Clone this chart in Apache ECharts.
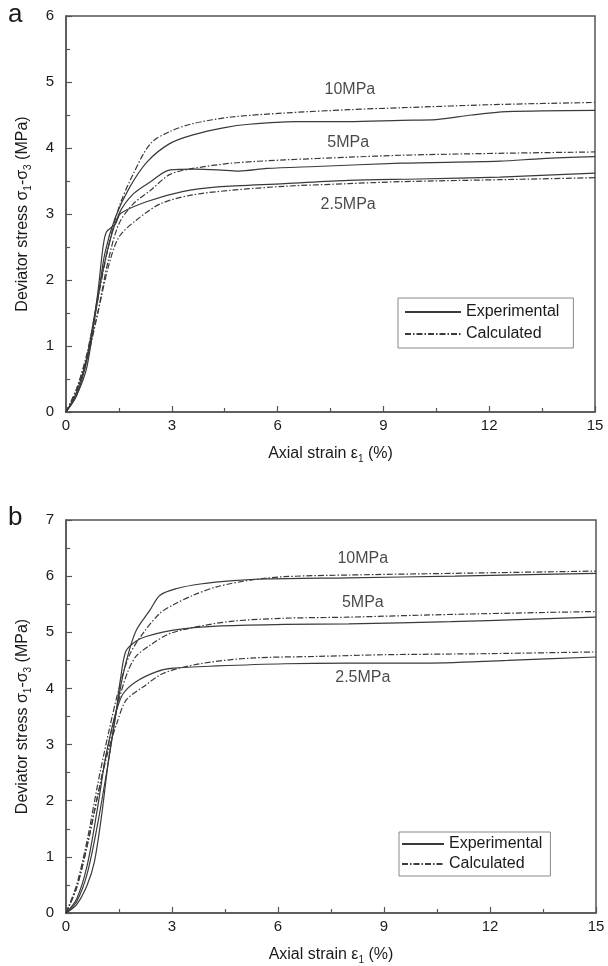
<!DOCTYPE html>
<html><head><meta charset="utf-8">
<script src="https://cdn.jsdelivr.net/npm/echarts@6/dist/echarts.min.js"></script>
<style>html,body{margin:0;padding:0;background:#fff}#c{width:608px;height:966px}</style>
</head><body><div id="c"></div>
<script>
// ---------- Panel a ----------
const aExp10 = [[0,0],[0.3,0.25],[0.6,0.8],[0.9,1.7],[1.1,2.4],[1.4,2.95],[1.8,3.4],[2.3,3.79],[2.95,4.07],[3.6,4.2],[4.5,4.31],[5.2,4.36],[6.5,4.4],[8,4.4],[9.5,4.42],[10.5,4.43],[11.5,4.5],[12.5,4.55],[15,4.57]];
const aCalc10 = [[0,0],[0.3,0.35],[0.6,0.9],[0.9,1.7],[1.2,2.5],[1.5,3.1],[1.9,3.6],[2.4,4.07],[2.95,4.25],[3.6,4.37],[4.7,4.47],[6.2,4.53],[8,4.58],[9.5,4.61],[12.3,4.66],[15,4.69]];
const aExp5 = [[0,0],[0.3,0.3],[0.6,0.85],[0.9,1.75],[1.2,2.5],[1.5,3.0],[1.9,3.3],[2.4,3.49],[2.95,3.67],[3.6,3.68],[4.3,3.67],[4.9,3.65],[5.7,3.69],[7.1,3.72],[9.5,3.77],[12.3,3.8],[13.5,3.84],[15,3.87]];
const aCalc5 = [[0,0],[0.3,0.3],[0.6,0.8],[0.9,1.5],[1.2,2.3],[1.5,2.85],[1.9,3.15],[2.4,3.36],[2.95,3.6],[3.6,3.69],[4.7,3.77],[6.2,3.82],[8,3.86],[9.5,3.89],[12.3,3.92],[15,3.94]];
const aExp25 = [[0,0],[0.3,0.25],[0.6,0.7],[0.9,1.8],[1.05,2.5],[1.15,2.73],[1.4,2.85],[1.55,3.01],[2.3,3.19],[3.3,3.34],[4.3,3.41],[6.2,3.46],[8,3.51],[10,3.53],[12.3,3.56],[15,3.62]];
const aCalc25 = [[0,0],[0.3,0.35],[0.6,0.85],[0.9,1.5],[1.2,2.2],[1.5,2.65],[2.0,2.91],[2.7,3.16],[3.6,3.29],[4.7,3.36],[6.2,3.42],[8,3.46],[9.5,3.49],[12.3,3.52],[15,3.55]];
const aLabels = [[8.05,4.88,'10MPa'],[8.0,4.08,'5MPa'],[8.0,3.15,'2.5MPa']];
// ---------- Panel b ----------
const bExp10 = [[0,0],[0.3,0.15],[0.6,0.5],[0.8,0.9],[1.0,1.7],[1.2,2.7],[1.4,3.5],[1.6,4.2],[1.8,4.7],[2.0,5.05],[2.38,5.4],[2.66,5.66],[3.14,5.78],[3.8,5.86],[4.74,5.92],[5.69,5.95],[8,5.97],[11,6.0],[15,6.05]];
const bCalc10 = [[0,0],[0.3,0.5],[0.6,1.3],[0.9,2.3],[1.2,3.2],[1.5,4.0],[1.8,4.6],[2.2,5.0],[2.66,5.34],[3.04,5.49],[3.6,5.66],[4.27,5.81],[5.22,5.93],[6.16,5.99],[8,6.02],[11,6.05],[15,6.09]];
const bExp5 = [[0,0],[0.3,0.2],[0.6,0.7],[0.9,1.6],[1.2,2.7],[1.4,3.5],[1.55,4.2],[1.7,4.67],[2.0,4.85],[2.29,4.93],[3.04,5.04],[4.27,5.11],[6.2,5.14],[8,5.15],[10.9,5.19],[13,5.23],[15,5.27]];
const bCalc5 = [[0,0],[0.3,0.45],[0.6,1.2],[0.9,2.1],[1.2,3.0],[1.5,3.8],[1.75,4.3],[1.98,4.57],[2.38,4.77],[2.95,4.98],[3.8,5.11],[4.74,5.2],[6.16,5.25],[8,5.27],[11,5.32],[15,5.37]];
const bExp25 = [[0,0],[0.3,0.25],[0.6,0.85],[0.9,1.9],[1.1,2.7],[1.3,3.3],[1.45,3.65],[1.62,3.91],[1.98,4.12],[2.57,4.3],[3.04,4.36],[4.27,4.4],[6.2,4.44],[8,4.45],[10,4.45],[12.5,4.5],[15,4.56]];
const bCalc25 = [[0,0],[0.3,0.45],[0.6,1.2],[0.9,2.1],[1.2,2.9],[1.45,3.4],[1.7,3.79],[2.19,4.03],[2.76,4.27],[3.8,4.44],[5.22,4.54],[7.1,4.57],[9,4.6],[12,4.62],[15,4.65]];
const bLabels = [[8.4,6.32,'10MPa'],[8.4,5.52,'5MPa'],[8.4,4.19,'2.5MPa']];

const xMax = 15, xInterval = 3;
const aYMax = 6, bYMax = 7, yInterval = 1;
const legendNames = ['Experimental','Calculated'];

const FONT = 'Liberation Sans, Arial, sans-serif';
const TXT = '#1a1a1a';
const AX = '#555';

function xAxis(gi){
  return {type:'value', gridIndex:gi, min:0, max:xMax, interval:xInterval,
    name:'Axial strain ε{s|1} (%)', nameLocation:'middle', nameGap:32,
    nameTextStyle:{fontFamily:FONT, fontSize:16, color:TXT, rich:{s:{fontFamily:FONT,fontSize:10,color:TXT,padding:[10,0,0,0]}}},
    axisLine:{lineStyle:{color:AX,width:1.5}},
    axisTick:{inside:true,length:6,lineStyle:{color:AX,width:1.2}},
    minorTick:{show:true,splitNumber:2,length:4,lineStyle:{color:AX,width:1.2}},
    splitLine:{show:false},
    axisLabel:{fontFamily:FONT,fontSize:15,color:TXT,margin:6}};
}
function yAxis(gi,max){
  return {type:'value', gridIndex:gi, min:0, max:max, interval:yInterval,
    name:'Deviator stress σ{s|1}-σ{s|3} (MPa)', nameLocation:'middle', nameGap:33, nameRotate:90,
    nameTextStyle:{fontFamily:FONT, fontSize:16, color:TXT, rich:{s:{fontFamily:FONT,fontSize:10,color:TXT,padding:[10,0,0,0]}}},
    axisLine:{lineStyle:{color:AX,width:1.5}},
    axisTick:{inside:true,length:6,lineStyle:{color:AX,width:1.2}},
    minorTick:{show:true,splitNumber:2,length:4,lineStyle:{color:AX,width:1.2}},
    splitLine:{show:false},
    axisLabel:{fontFamily:FONT,fontSize:15,color:TXT,margin:12}};
}
function line(name,data,gi,dashed){
  return {type:'line', name:name, xAxisIndex:gi, yAxisIndex:gi, data:data, smooth:0.3,
    symbol:'none', showSymbol:false, silent:true,
    lineStyle:{color:'#3a3a3a', width:1.2, type:dashed?[6,2,1.5,2]:'solid'},
    itemStyle:{color:'#333'}};
}
function labels(data,gi){
  return {type:'scatter', xAxisIndex:gi, yAxisIndex:gi, symbolSize:0, silent:true,
    data:data.map(d=>({value:[d[0],d[1]],name:d[2]})),
    label:{show:true,position:'inside',formatter:p=>p.name,fontFamily:FONT,fontSize:16,color:TXT}};
}

const chart = echarts.init(document.getElementById('c'),null,{renderer:'canvas'});
chart.setOption({
  animation:false,
  backgroundColor:'#fff',
  grid:[
    {left:66, top:16, width:529, height:396, show:true, borderColor:AX, borderWidth:1.5, backgroundColor:'transparent'},
    {left:66, top:520, width:530, height:393, show:true, borderColor:AX, borderWidth:1.5, backgroundColor:'transparent'}
  ],
  xAxis:[xAxis(0), xAxis(1)],
  yAxis:[yAxis(0,aYMax), yAxis(1,bYMax)],
  legend:[
    {data:legendNames, left:398, top:298, orient:'vertical', itemWidth:56, itemHeight:12, itemGap:6,
     padding:[6,14,6,6], borderColor:'#888', borderWidth:1, itemStyle:{opacity:0},
     textStyle:{fontFamily:FONT,fontSize:16,color:TXT}, selectedMode:false},
    {data:legendNames, left:399, top:832, orient:'vertical', itemWidth:42, itemHeight:12, itemGap:4,
     padding:[4,8,4,2], borderColor:'#888', borderWidth:1, itemStyle:{opacity:0},
     textStyle:{fontFamily:FONT,fontSize:16,color:TXT}, selectedMode:false}
  ],
  graphic:[
    {type:'text', left:8, top:2, style:{text:'a', font:'26px '+FONT, fill:TXT}},
    {type:'text', left:8, top:505, style:{text:'b', font:'26px '+FONT, fill:TXT}}
  ],
  series:[
    line('Experimental',aExp10,0,false), line('Calculated',aCalc10,0,true),
    line('Experimental',aExp5,0,false), line('Calculated',aCalc5,0,true),
    line('Experimental',aExp25,0,false), line('Calculated',aCalc25,0,true),
    line('Experimental',bExp10,1,false), line('Calculated',bCalc10,1,true),
    line('Experimental',bExp5,1,false), line('Calculated',bCalc5,1,true),
    line('Experimental',bExp25,1,false), line('Calculated',bCalc25,1,true),
    labels(aLabels,0), labels(bLabels,1)
  ]
});
</script></body></html>
